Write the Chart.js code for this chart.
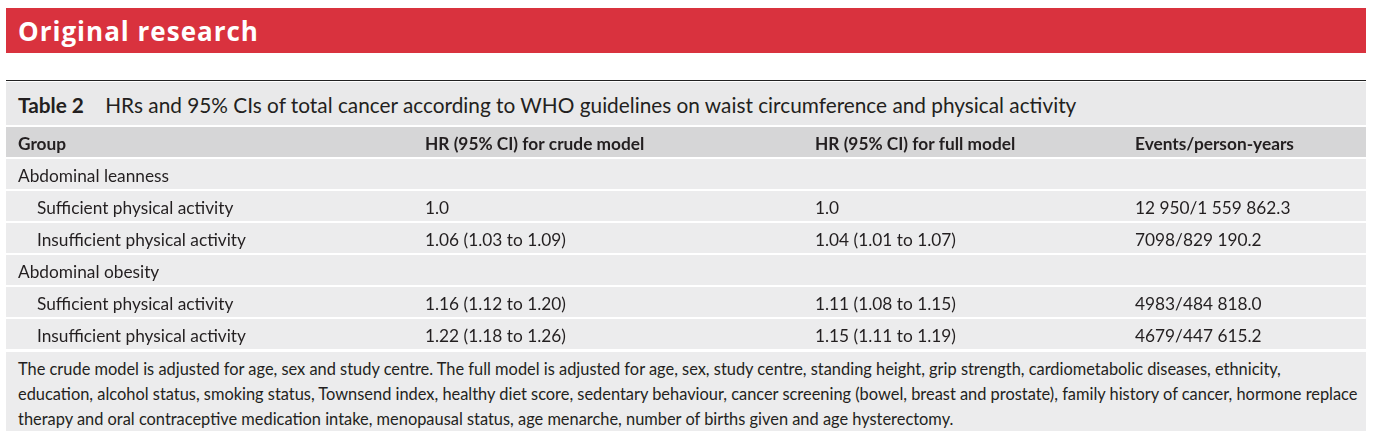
<!DOCTYPE html>
<html><head><meta charset="utf-8">
<script src="https://cdn.jsdelivr.net/npm/chart.js@4/dist/chart.umd.min.js"></script>
<style>
body{margin:0;background:#fff;font-family:Lato,"Noto Sans",sans-serif;color:#231f20;width:1374px;height:436px;overflow:hidden;position:relative}
#banner{position:absolute;left:6px;top:8px;width:1360px;height:45px;background:#d9323e;color:#fff;font:bold 26px "Open Sans",sans-serif;letter-spacing:1px;line-height:46px;padding-left:12px;box-sizing:border-box}
#rule{position:absolute;left:6px;top:80px;width:1360px;height:1px;background:#222}
#cap{position:absolute;left:6px;top:82px;width:1360px;height:43px;background:#e9e9ea;font-size:20.8px;line-height:46px;padding-left:12px;box-sizing:border-box;white-space:nowrap}
#wrap{position:absolute;left:6px;top:127px;width:1360px;height:224px}
#foot{position:absolute;left:6px;top:352px;width:1360px;height:79px;background:#ececed;font-size:16.4px;line-height:25px;padding:4px 8px 4px 12px;box-sizing:border-box}
</style></head><body>
<div id="banner">Original research</div>
<div id="rule"></div>
<div id="cap"><b>Table 2</b>&nbsp;&nbsp;&nbsp; HRs and 95% CIs of total cancer according to WHO guidelines on waist circumference and physical activity</div>
<div id="wrap"><canvas id="c"></canvas></div>
<div id="foot">The crude model is adjusted for age, sex and study centre. The full model is adjusted for age, sex, study centre, standing height, grip strength, cardiometabolic diseases, ethnicity, education, alcohol status, smoking status, Townsend index, healthy diet score, sedentary behaviour, cancer screening (bowel, breast and prostate), family history of cancer, hormone replace therapy and oral contraceptive medication intake, menopausal status, age menarche, number of births given and age hysterectomy.</div>
<script>
const headers = ['Group', 'HR (95% CI) for crude model', 'HR (95% CI) for full model', 'Events/person-years'];
const groups = ['Abdominal leanness', '  Sufficient physical activity', '  Insufficient physical activity', 'Abdominal obesity', '  Sufficient physical activity', '  Insufficient physical activity'];
const crude = ['', '1.0', '1.06 (1.03 to 1.09)', '', '1.16 (1.12 to 1.20)', '1.22 (1.18 to 1.26)'];
const full = ['', '1.0', '1.04 (1.01 to 1.07)', '', '1.11 (1.08 to 1.15)', '1.15 (1.11 to 1.19)'];
const events = ['', '12 950/1 559 862.3', '7098/829 190.2', '', '4983/484 818.0', '4679/447 615.2'];
const columnAt = [12, 419, 809, 1129];

const rowLabels = ['header', ...groups.map((g, i) => 'r' + i)];

const tablePlugin = {
  id: 'table',
  beforeDraw(chart) {
    const {ctx, scales: {x, y}} = chart;
    const h = y.getPixelForValue(1) - y.getPixelForValue(0);
    ctx.save();
    rowLabels.forEach((r, i) => {
      const cy = y.getPixelForValue(i);
      ctx.fillStyle = i === 0 ? '#d6d6d7' : '#ececed';
      ctx.fillRect(x.left, cy - h / 2, x.right - x.left, h - 2);
    });
    ctx.textBaseline = 'middle';
    ctx.fillStyle = '#231f20';
    const put = (txt, col, i, bold) => {
      if (!txt) return;
      const indent = txt.startsWith('  ') ? 19 : 0;
      ctx.font = (bold ? 'bold ' : '') + '17.3px Lato, "Noto Sans", sans-serif';
      ctx.fillText(txt.trim(), x.getPixelForValue(columnAt[col]) + indent, y.getPixelForValue(i) + 1);
    };
    headers.forEach((t, c) => put(t, c, 0, true));
    groups.forEach((g, i) => {
      put(g, 0, i + 1);
      put(crude[i], 1, i + 1);
      put(full[i], 2, i + 1);
      put(events[i], 3, i + 1);
    });
    ctx.restore();
  }
};

new Chart(document.getElementById('c'), {
  type: 'scatter',
  data: { labels: rowLabels, datasets: [{ data: [] }] },
  options: {
    responsive: true,
    maintainAspectRatio: false,
    animation: false,
    layout: { padding: 0 },
    plugins: { legend: { display: false }, tooltip: { enabled: false } },
    scales: {
      x: { type: 'linear', min: 0, max: 1360, display: false },
      y: { type: 'category', labels: rowLabels, offset: true, display: false }
    }
  },
  plugins: [tablePlugin]
});
</script>
</body></html>
